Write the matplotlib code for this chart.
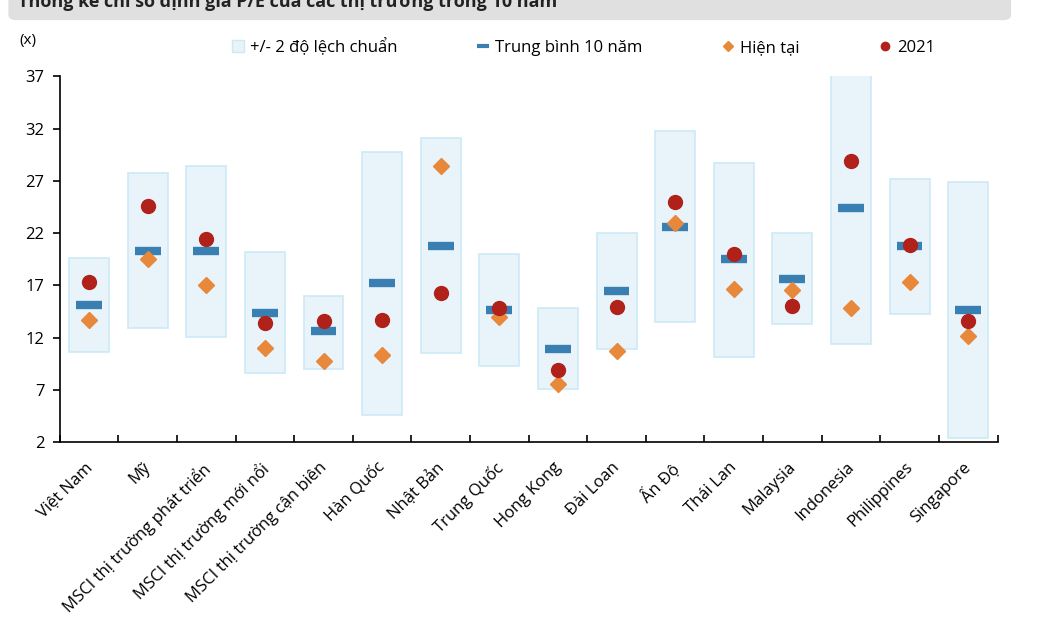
import numpy as np
import matplotlib.pyplot as plt
from matplotlib.lines import Line2D
from matplotlib.patches import Patch, FancyBboxPatch
from matplotlib.transforms import ScaledTranslation

plt.rcParams['font.family'] = ['Open Sans', 'DejaVu Sans']

# Dữ liệu P/E
thi_truong = ['Việt Nam', 'Mỹ', 'MSCI thị trường phát triển', 'MSCI thị trường mới nổi',
              'MSCI thị trường cận biên', 'Hàn Quốc', 'Nhật Bản', 'Trung Quốc', 'Hong Kong',
              'Đài Loan', 'Ấn Độ', 'Thái Lan', 'Malaysia', 'Indonesia', 'Philippines', 'Singapore']
tren = [19.6, 27.7, 28.4, 20.2, 16.0, 29.8, 31.1, 20.0, 14.8, 22.0, 31.8, 28.7, 22.0, 38.0, 27.2, 26.9]
duoi = [10.6, 12.9, 12.1, 8.6, 9.0, 4.6, 10.5, 9.3, 7.1, 10.9, 13.5, 10.2, 13.3, 11.4, 14.3, 2.4]
trung_binh = [15.1, 20.3, 20.3, 14.4, 12.6, 17.2, 20.8, 14.6, 10.9, 16.5, 22.6, 19.5, 17.6, 24.4, 20.8, 14.6]
hien_tai = [13.7, 19.5, 17.0, 11.0, 9.8, 10.3, 28.4, 14.0, 7.6, 10.7, 23.0, 16.7, 16.6, 14.8, 17.3, 12.2]
nam_2021 = [17.3, 24.6, 21.4, 13.4, 13.6, 13.7, 16.3, 14.8, 8.9, 14.9, 25.0, 20.0, 15.0, 28.9, 20.9, 13.6]

c_box = '#e8f3fa'
c_edge = '#cde9f8'
c_mean = '#3a7fb2'
c_now = '#e8883a'
c_2021 = '#b0211a'

fig = plt.figure(figsize=(10.5, 6.3), dpi=100)
ax = fig.add_axes([0.057, 0.298, 0.893, 0.581])

x = np.arange(len(thi_truong))
h = np.array(tren) - np.array(duoi)
ax.bar(x, h, bottom=duoi, width=0.68, color=c_box, edgecolor=c_edge, linewidth=1.2, zorder=1)
ax.hlines(trung_binh, x - 0.22, x + 0.22, color=c_mean, linewidth=6, zorder=2)
ax.plot(x, hien_tai, 'D', color=c_now, markersize=8, linestyle='none', zorder=3)
ax.plot(x, nam_2021, 'o', color=c_2021, markersize=10, linestyle='none', zorder=4)

ax.set_xlim(-0.5, len(thi_truong) - 0.5)
ax.set_ylim(2, 37)
ax.set_yticks(np.arange(2, 38, 5))
ax.set_xticks(x)
ax.set_xticklabels(thi_truong, rotation=45, ha='right', rotation_mode='anchor', fontsize=12)
ax.tick_params(axis='x', length=0, pad=8)
dich = ScaledTranslation(-0.05, -0.06, fig.dpi_scale_trans)
for lb in ax.get_xticklabels():
    lb.set_transform(lb.get_transform() + dich)
ax.set_xticks(np.arange(-0.5, len(thi_truong)), minor=True)
ax.tick_params(axis='x', which='minor', direction='in', length=5, width=1.2)
ax.tick_params(axis='y', labelsize=12, length=5, width=1.2, pad=6)
for s in ['top', 'right']:
    ax.spines[s].set_visible(False)
for s in ['left', 'bottom']:
    ax.spines[s].set_linewidth(1.2)

fig.text(0.018, 0.93, '(x)', fontsize=11)

handles = [
    Patch(facecolor=c_box, edgecolor=c_edge),
    Line2D([], [], color=c_mean, marker='_', linestyle='none', markersize=9, markeredgewidth=3),
    Line2D([], [], color=c_now, marker='D', linestyle='none', markersize=5),
    Line2D([], [], color=c_2021, marker='o', linestyle='none', markersize=6),
]
labels = ['+/- 2 độ lệch chuẩn', 'Trung bình 10 năm', 'Hiện tại', '2021']
fig.legend(handles, labels, loc='center left', bbox_to_anchor=(0.213, 0.925), ncol=4,
           frameon=False, fontsize=12, handlelength=0.7, handletextpad=0.4,
           columnspacing=4.75, borderpad=0)

# Khung tiêu đề (bị cắt ở phía trên)
banner = FancyBboxPatch((0.008, 0.968), 0.955, 0.06, boxstyle='round,pad=0,rounding_size=0.008',
                        transform=fig.transFigure, facecolor='#e0e0e0', edgecolor='none')
fig.patches.append(banner)
fig.text(0.017, 0.997, 'Thống kê chỉ số định giá P/E của các thị trường trong 10 năm',
         fontsize=13, fontweight='bold', va='center', color='#222222')

fig.savefig('out.png', dpi=100)
